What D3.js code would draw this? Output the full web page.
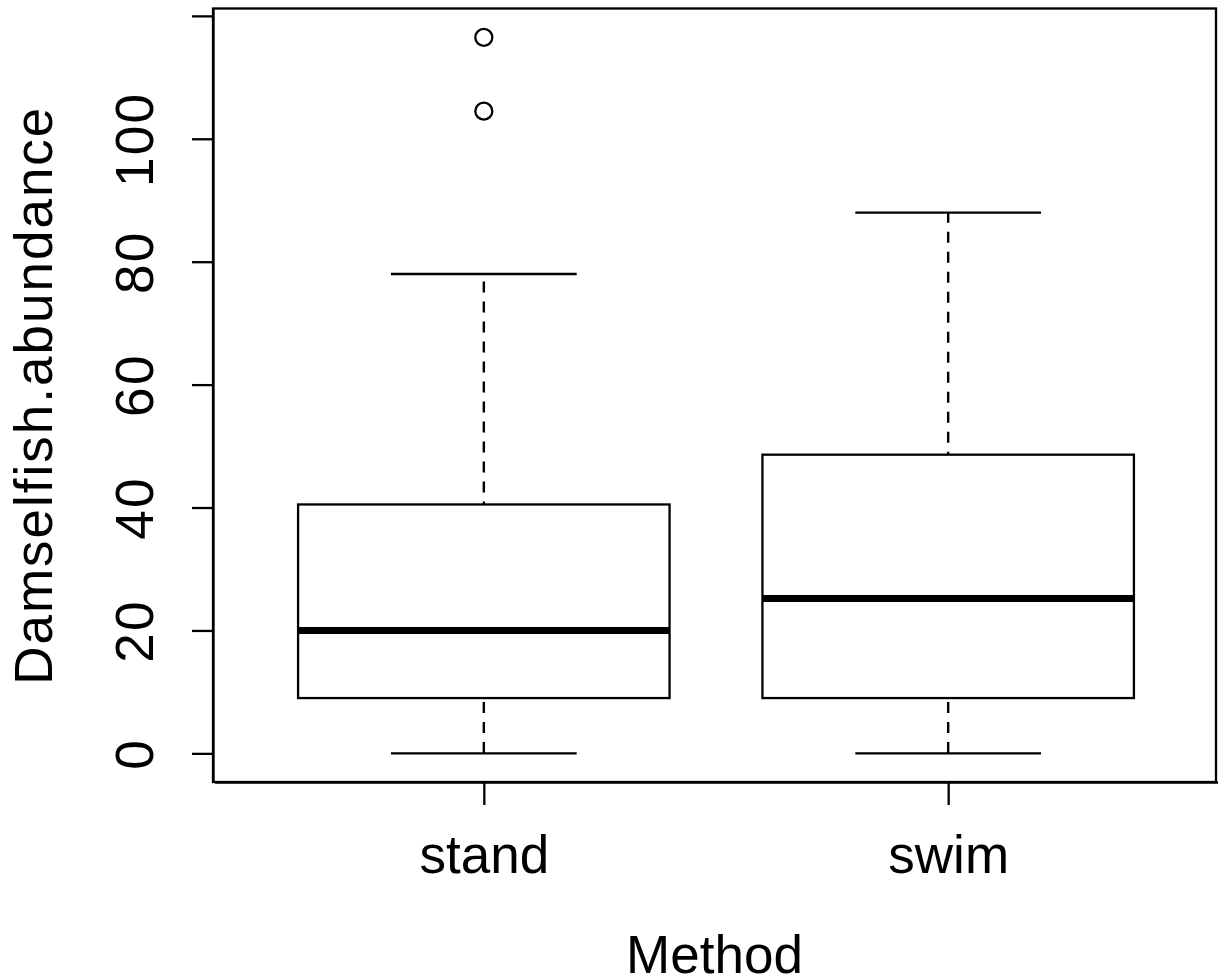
<!DOCTYPE html>
<html>
<head>
<meta charset="utf-8">
<script src="https://cdn.jsdelivr.net/npm/d3@7"></script>
<style>
  body { margin: 0; background: #fff; }
  svg text { font-family: "Liberation Sans", Arial, sans-serif; fill: #000; }
</style>
</head>
<body>
<svg id="chart" width="1218" height="980"></svg>
<script>
// box statistics
const methods = ["stand", "swim"];
const lowerWhisker = [0, 0];
const lowerHinge = [9, 9];
const medians = [20, 25.2];
const upperHinge = [40.5, 48.6];
const upperWhisker = [78, 88];
const outliers = [
  { method: "stand", value: 104.5 },
  { method: "stand", value: 116.5 }
];
const yTicks = [0, 20, 40, 60, 80, 100, 120];

const boxes = methods.map((m, i) => ({
  method: m,
  lo: lowerWhisker[i],
  q1: lowerHinge[i],
  med: medians[i],
  q3: upperHinge[i],
  hi: upperWhisker[i]
}));

const svg = d3.select("#chart"),
  margins = { top: 8.5, right: 2, bottom: 198, left: 213 },
  width = 1218 - margins.left - margins.right,
  height = 980 - margins.top - margins.bottom,
  fontSize = 53,
  lineW = 2.3;

const xScale = d3.scalePoint()
  .domain(methods)
  .range([margins.left + 1.5, margins.left + width + 1.5])
  .padding(0.58);

const yScale = d3.scaleLinear()
  .domain([-4.66, 121.2])
  .range([margins.top + height, margins.top]);

const boxWidth = xScale.step() * 0.8;

// frame
svg.append("rect")
  .attr("x", margins.left)
  .attr("y", margins.top)
  .attr("width", width)
  .attr("height", height)
  .attr("fill", "none")
  .attr("stroke", "#000")
  .attr("stroke-width", lineW);

// axes
const yAxis = svg.append("g")
  .attr("transform", "translate(" + margins.left + ",0)")
  .call(d3.axisLeft(yScale)
    .tickValues(yTicks)
    .tickSize(21)
    .tickSizeOuter(0)
    .tickFormat(d => d === 120 ? "" : d));

yAxis.selectAll("line").attr("stroke", "#000").attr("stroke-width", lineW);
yAxis.select(".domain").attr("stroke", "#000").attr("stroke-width", lineW);
yAxis.selectAll("text")
  .attr("x", null)
  .attr("dy", null)
  .attr("transform", "translate(-60,0) rotate(-90)")
  .attr("text-anchor", "middle")
  .style("letter-spacing", "2.3px")
  .style("font-size", fontSize + "px")
  .style("font-family", "'Liberation Sans', Arial, sans-serif");

const xAxis = svg.append("g")
  .attr("transform", "translate(0," + (margins.top + height) + ")")
  .call(d3.axisBottom(xScale)
    .tickSize(23)
    .tickSizeOuter(0));

xAxis.selectAll("line").attr("stroke", "#000").attr("stroke-width", lineW);
xAxis.select(".domain").attr("stroke", "#000").attr("stroke-width", lineW);
xAxis.selectAll("text")
  .attr("y", 91)
  .attr("dy", null)
  .style("font-size", fontSize + "px")
  .style("font-family", "'Liberation Sans', Arial, sans-serif");

// boxes
const g = svg.append("g").selectAll("g")
  .data(boxes)
  .enter()
  .append("g");

// dashed whiskers
g.append("line")
  .attr("x1", d => xScale(d.method))
  .attr("x2", d => xScale(d.method))
  .attr("y1", d => yScale(d.q3))
  .attr("y2", d => yScale(d.hi))
  .attr("stroke", "#000")
  .attr("stroke-width", 2.4)
  .attr("stroke-dasharray", "11,9")
  .attr("stroke-dashoffset", -12);

g.append("line")
  .attr("x1", d => xScale(d.method))
  .attr("x2", d => xScale(d.method))
  .attr("y1", d => yScale(d.q1))
  .attr("y2", d => yScale(d.lo))
  .attr("stroke", "#000")
  .attr("stroke-width", 2.4)
  .attr("stroke-dasharray", "11,9")
  .attr("stroke-dashoffset", -4);

// staples
g.selectAll("line.staple")
  .data(d => [d.lo, d.hi].map(v => ({ method: d.method, v: v })))
  .enter()
  .append("line")
  .attr("class", "staple")
  .attr("x1", d => xScale(d.method) - boxWidth / 4)
  .attr("x2", d => xScale(d.method) + boxWidth / 4)
  .attr("y1", d => yScale(d.v))
  .attr("y2", d => yScale(d.v))
  .attr("stroke", "#000")
  .attr("stroke-width", lineW);

g.append("rect")
  .attr("x", d => xScale(d.method) - boxWidth / 2)
  .attr("width", boxWidth)
  .attr("y", d => yScale(d.q3))
  .attr("height", d => yScale(d.q1) - yScale(d.q3))
  .attr("fill", "none")
  .attr("stroke", "#000")
  .attr("stroke-width", lineW);

g.append("line")
  .attr("x1", d => xScale(d.method) - boxWidth / 2)
  .attr("x2", d => xScale(d.method) + boxWidth / 2)
  .attr("y1", d => yScale(d.med))
  .attr("y2", d => yScale(d.med))
  .attr("stroke", "#000")
  .attr("stroke-width", 7);

// outliers
svg.append("g").selectAll("circle")
  .data(outliers)
  .enter()
  .append("circle")
  .attr("cx", d => xScale(d.method))
  .attr("cy", d => yScale(d.value))
  .attr("r", 8.5)
  .attr("fill", "none")
  .attr("stroke", "#000")
  .attr("stroke-width", lineW);

// axis titles
svg.append("text")
  .attr("x", margins.left + width / 2)
  .attr("y", 973)
  .attr("text-anchor", "middle")
  .style("font-size", fontSize + "px")
  .text("Method");

svg.append("text")
  .attr("transform", "translate(52," + (margins.top + height / 2) + ") rotate(-90)")
  .attr("text-anchor", "middle")
  .style("letter-spacing", "2px")
  .style("font-size", fontSize + "px")
  .text("Damselfish.abundance");
</script>
</body>
</html>
